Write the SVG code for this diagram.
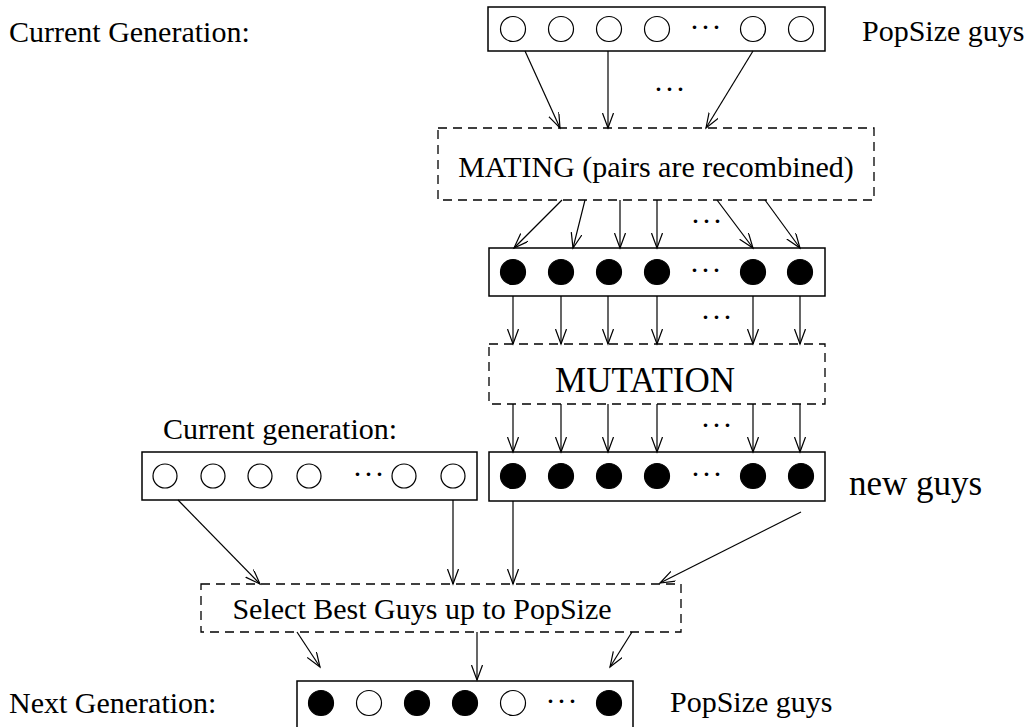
<svg xmlns="http://www.w3.org/2000/svg" width="1034" height="727" viewBox="0 0 1034 727">
<style>
text{font-family:"Liberation Serif","Times New Roman",serif;fill:#000}
.lbl{font-size:30px}
.big{font-size:35px}
.dots{font-size:30px;text-anchor:middle;letter-spacing:1px}
.box{fill:#fff;stroke:#000;stroke-width:1.5}
.dash{fill:none;stroke:#000;stroke-width:1.3;stroke-dasharray:9 6}
.o{fill:#fff;stroke:#000;stroke-width:1.2}
.f{fill:#000;stroke:#000;stroke-width:1.2}
.c line{stroke:#000;stroke-width:1.2;marker-end:url(#ah)}
</style>
<defs>
<marker id="ah" markerUnits="userSpaceOnUse" markerWidth="18" markerHeight="12" refX="15" refY="5.5" orient="auto" viewBox="0 0 18 12">
<path d="M0,0 L15,5.5 L0,11" fill="none" stroke="#000" stroke-width="1.2"/>
</marker>
</defs>
<rect width="1034" height="727" fill="#fff"/>

<g id="labels">
<text class="lbl" x="9" y="42">Current Generation:</text>
<text class="lbl" x="862" y="41">PopSize guys</text>
<text class="lbl" x="163" y="439">Current generation:</text>
<text class="big" x="849" y="495">new guys</text>
<text class="lbl" x="9" y="713">Next Generation:</text>
<text class="lbl" x="670" y="712">PopSize guys</text>
</g>

<g id="current-pop">
<rect class="box" x="488" y="7" width="337" height="44"/>
<circle class="o" cx="513" cy="29" r="12.5"/>
<circle class="o" cx="561" cy="29" r="12.5"/>
<circle class="o" cx="609" cy="29" r="12.5"/>
<circle class="o" cx="657" cy="29" r="12.5"/>
<text class="dots" x="706" y="37">···</text>
<circle class="o" cx="753" cy="29" r="12.5"/>
<circle class="o" cx="801" cy="29" r="12.5"/>
</g>

<g id="mating">
<rect class="dash" x="438" y="128" width="436" height="72"/>
<text class="lbl" x="656" y="177" text-anchor="middle">MATING (pairs are recombined)</text>
</g>

<g id="offspring">
<rect class="box" x="489" y="248" width="336" height="48"/>
<circle class="f" cx="513" cy="272" r="12.5"/>
<circle class="f" cx="561" cy="272" r="12.5"/>
<circle class="f" cx="609" cy="272" r="12.5"/>
<circle class="f" cx="657" cy="272" r="12.5"/>
<text class="dots" x="706" y="280">···</text>
<circle class="f" cx="753" cy="272" r="12.5"/>
<circle class="f" cx="800" cy="272" r="12.5"/>
</g>

<g id="mutation">
<rect class="dash" x="489" y="344" width="336" height="60"/>
<text class="big" x="645" y="392" text-anchor="middle">MUTATION</text>
</g>

<g id="current-gen-box">
<rect class="box" x="142" y="452" width="335" height="48"/>
<circle class="o" cx="165" cy="476" r="12"/>
<circle class="o" cx="213" cy="476" r="12"/>
<circle class="o" cx="260" cy="476" r="12"/>
<circle class="o" cx="309" cy="476" r="12"/>
<text class="dots" x="369" y="484">···</text>
<circle class="o" cx="404" cy="476" r="12"/>
<circle class="o" cx="453" cy="476" r="12"/>
</g>

<g id="new-guys-box">
<rect class="box" x="489" y="452" width="336" height="49"/>
<circle class="f" cx="513" cy="476" r="12.5"/>
<circle class="f" cx="561" cy="476" r="12.5"/>
<circle class="f" cx="609" cy="476" r="12.5"/>
<circle class="f" cx="657" cy="476" r="12.5"/>
<text class="dots" x="707" y="484">···</text>
<circle class="f" cx="753" cy="476" r="12.5"/>
<circle class="f" cx="801" cy="476" r="12.5"/>
</g>

<g id="select">
<rect class="dash" x="201" y="584" width="480" height="48"/>
<text class="lbl" x="422" y="619" text-anchor="middle">Select Best Guys up to PopSize</text>
</g>

<g id="next-gen">
<rect class="box" x="297" y="681" width="336" height="60"/>
<circle class="f" cx="321" cy="703" r="12.5"/>
<circle class="o" cx="369" cy="703" r="12.5"/>
<circle class="f" cx="417" cy="703" r="12.5"/>
<circle class="f" cx="465" cy="703" r="12.5"/>
<circle class="o" cx="513" cy="703" r="12.5"/>
<text class="dots" x="562" y="711">···</text>
<circle class="f" cx="609" cy="703" r="12.5"/>
</g>

<g id="connectors" class="c">
<line x1="525" y1="51" x2="560" y2="128"/>
<line x1="608" y1="51" x2="608" y2="128"/>
<line x1="753" y1="51" x2="706" y2="128"/>
<text class="dots" x="670" y="99">···</text>

<line x1="562" y1="200" x2="514" y2="248"/>
<line x1="585" y1="200" x2="573" y2="248"/>
<line x1="620" y1="200" x2="620" y2="248"/>
<line x1="657" y1="200" x2="657" y2="248"/>
<line x1="717" y1="200" x2="753" y2="248"/>
<line x1="765" y1="200" x2="800" y2="248"/>
<text class="dots" x="707" y="231">···</text>

<line x1="513" y1="296" x2="513" y2="344"/>
<line x1="561" y1="296" x2="561" y2="344"/>
<line x1="608" y1="296" x2="608" y2="344"/>
<line x1="657" y1="296" x2="657" y2="344"/>
<line x1="753" y1="296" x2="753" y2="344"/>
<line x1="800" y1="296" x2="800" y2="344"/>
<text class="dots" x="717" y="327">···</text>

<line x1="513" y1="404" x2="513" y2="452"/>
<line x1="561" y1="404" x2="561" y2="452"/>
<line x1="608" y1="404" x2="608" y2="452"/>
<line x1="657" y1="404" x2="657" y2="452"/>
<line x1="753" y1="404" x2="753" y2="452"/>
<line x1="800" y1="404" x2="800" y2="452"/>
<text class="dots" x="717" y="435">···</text>

<line x1="178" y1="500" x2="260" y2="584"/>
<line x1="453" y1="500" x2="453" y2="584"/>
<line x1="513" y1="501" x2="513" y2="584"/>
<line x1="801" y1="512" x2="660" y2="583"/>

<line x1="297" y1="632" x2="320" y2="667"/>
<line x1="477" y1="632" x2="477" y2="680"/>
<line x1="632" y1="632" x2="610" y2="667"/>
</g>
</svg>
